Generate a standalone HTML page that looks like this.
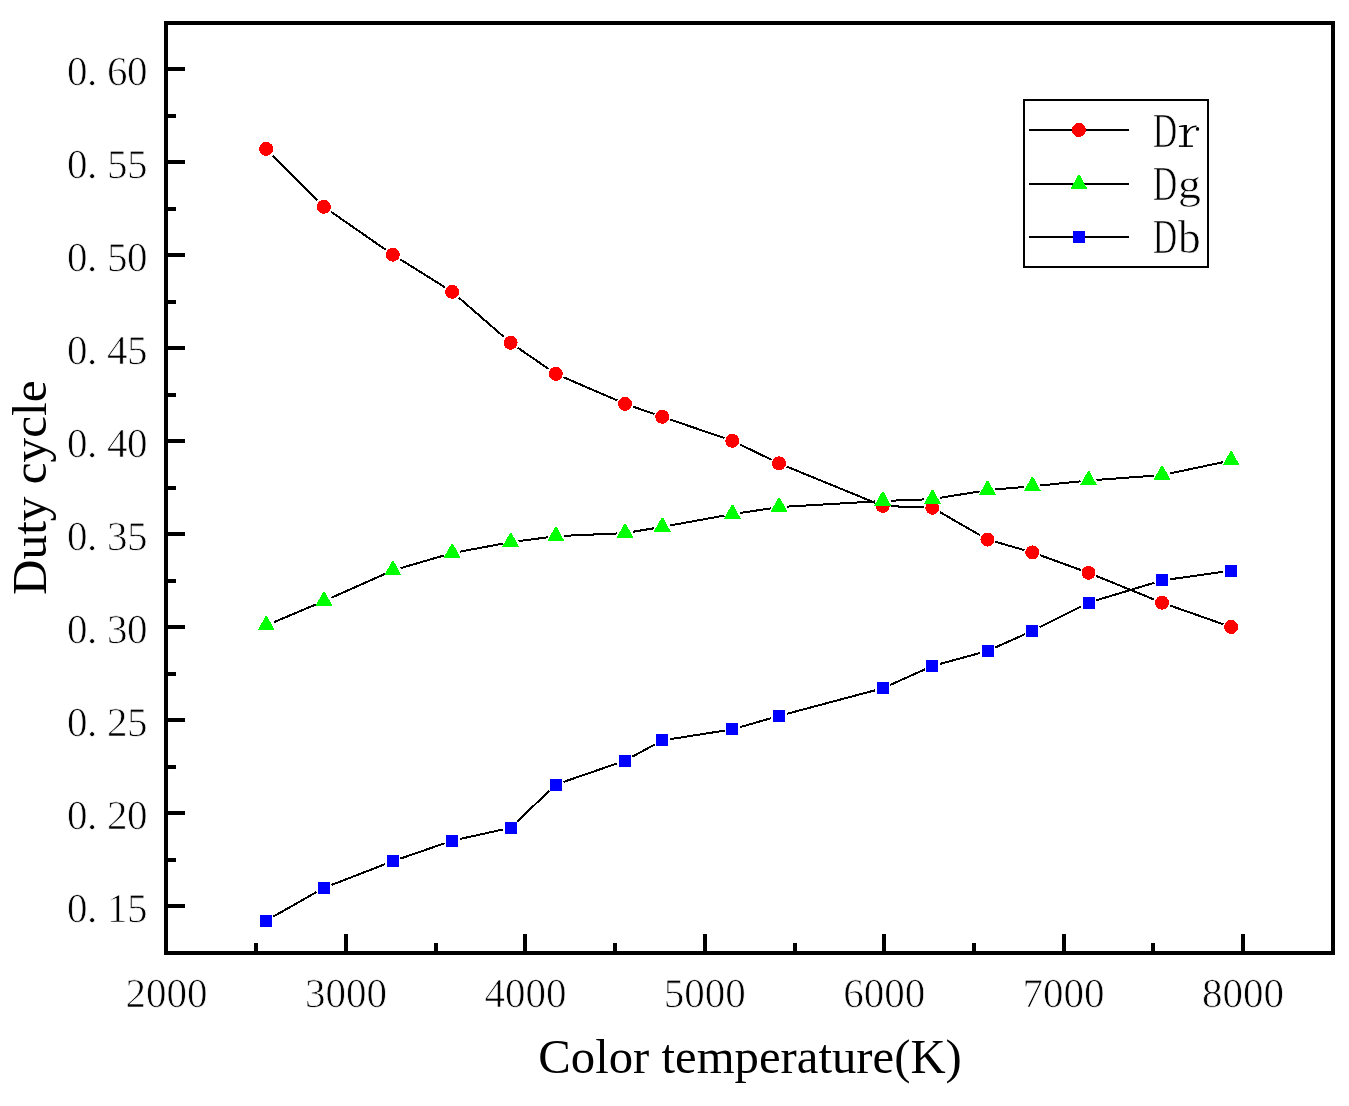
<!DOCTYPE html>
<html><head><meta charset="utf-8"><style>
html,body{margin:0;padding:0;background:#fff;}
svg{display:block;}
text{font-family:"Liberation Serif", serif;font-size:40px;fill:#000;filter:grayscale(1);}
.t{stroke:#fff;stroke-width:0.7px;}
.n{font-size:41px;text-rendering:geometricPrecision;}
</style></head><body>
<svg width="1349" height="1106" viewBox="0 0 1349 1106" shape-rendering="crispEdges">
<rect width="1349" height="1106" fill="#fff"/>
<rect x="166" y="23" width="1167" height="930" fill="none" stroke="#000" stroke-width="4"/>
<rect x="168" y="904.4" width="17" height="4" fill="#000"/>
<rect x="168" y="811.36" width="17" height="4" fill="#000"/>
<rect x="168" y="718.31" width="17" height="4" fill="#000"/>
<rect x="168" y="625.27" width="17" height="4" fill="#000"/>
<rect x="168" y="532.23" width="17" height="4" fill="#000"/>
<rect x="168" y="439.18" width="17" height="4" fill="#000"/>
<rect x="168" y="346.13" width="17" height="4" fill="#000"/>
<rect x="168" y="253.09" width="17" height="4" fill="#000"/>
<rect x="168" y="160.04" width="17" height="4" fill="#000"/>
<rect x="168" y="67" width="17" height="4" fill="#000"/>
<rect x="168" y="857.88" width="8" height="4" fill="#000"/>
<rect x="168" y="764.84" width="8" height="4" fill="#000"/>
<rect x="168" y="671.79" width="8" height="4" fill="#000"/>
<rect x="168" y="578.75" width="8" height="4" fill="#000"/>
<rect x="168" y="485.7" width="8" height="4" fill="#000"/>
<rect x="168" y="392.66" width="8" height="4" fill="#000"/>
<rect x="168" y="299.61" width="8" height="4" fill="#000"/>
<rect x="168" y="206.57" width="8" height="4" fill="#000"/>
<rect x="168" y="113.52" width="8" height="4" fill="#000"/>
<rect x="344" y="934" width="4" height="17" fill="#000"/>
<rect x="523.4" y="934" width="4" height="17" fill="#000"/>
<rect x="702.8" y="934" width="4" height="17" fill="#000"/>
<rect x="882.2" y="934" width="4" height="17" fill="#000"/>
<rect x="1061.6" y="934" width="4" height="17" fill="#000"/>
<rect x="1241" y="934" width="4" height="17" fill="#000"/>
<rect x="254.3" y="943" width="4" height="8" fill="#000"/>
<rect x="433.7" y="943" width="4" height="8" fill="#000"/>
<rect x="613.1" y="943" width="4" height="8" fill="#000"/>
<rect x="792.5" y="943" width="4" height="8" fill="#000"/>
<rect x="971.9" y="943" width="4" height="8" fill="#000"/>
<rect x="1151.3" y="943" width="4" height="8" fill="#000"/>
<text class="t n" x="66.9" y="922">0</text>
<text class="t n" x="86.9" y="922">.</text>
<text class="t n" x="106.9" y="922">1</text>
<text class="t n" x="126.9" y="922">5</text>
<text class="t n" x="66.9" y="828.96">0</text>
<text class="t n" x="86.9" y="828.96">.</text>
<text class="t n" x="106.9" y="828.96">2</text>
<text class="t n" x="126.9" y="828.96">0</text>
<text class="t n" x="66.9" y="735.91">0</text>
<text class="t n" x="86.9" y="735.91">.</text>
<text class="t n" x="106.9" y="735.91">2</text>
<text class="t n" x="126.9" y="735.91">5</text>
<text class="t n" x="66.9" y="642.87">0</text>
<text class="t n" x="86.9" y="642.87">.</text>
<text class="t n" x="106.9" y="642.87">3</text>
<text class="t n" x="126.9" y="642.87">0</text>
<text class="t n" x="66.9" y="549.83">0</text>
<text class="t n" x="86.9" y="549.83">.</text>
<text class="t n" x="106.9" y="549.83">3</text>
<text class="t n" x="126.9" y="549.83">5</text>
<text class="t n" x="66.9" y="456.78">0</text>
<text class="t n" x="86.9" y="456.78">.</text>
<text class="t n" x="106.9" y="456.78">4</text>
<text class="t n" x="126.9" y="456.78">0</text>
<text class="t n" x="66.9" y="363.73">0</text>
<text class="t n" x="86.9" y="363.73">.</text>
<text class="t n" x="106.9" y="363.73">4</text>
<text class="t n" x="126.9" y="363.73">5</text>
<text class="t n" x="66.9" y="270.69">0</text>
<text class="t n" x="86.9" y="270.69">.</text>
<text class="t n" x="106.9" y="270.69">5</text>
<text class="t n" x="126.9" y="270.69">0</text>
<text class="t n" x="66.9" y="177.64">0</text>
<text class="t n" x="86.9" y="177.64">.</text>
<text class="t n" x="106.9" y="177.64">5</text>
<text class="t n" x="126.9" y="177.64">5</text>
<text class="t n" x="66.9" y="84.6">0</text>
<text class="t n" x="86.9" y="84.6">.</text>
<text class="t n" x="106.9" y="84.6">6</text>
<text class="t n" x="126.9" y="84.6">0</text>
<text class="t n" x="166.6" y="1007" text-anchor="middle">2000</text>
<text class="t n" x="346" y="1007" text-anchor="middle">3000</text>
<text class="t n" x="525.4" y="1007" text-anchor="middle">4000</text>
<text class="t n" x="704.8" y="1007" text-anchor="middle">5000</text>
<text class="t n" x="884.2" y="1007" text-anchor="middle">6000</text>
<text class="t n" x="1063.6" y="1007" text-anchor="middle">7000</text>
<text class="t n" x="1243" y="1007" text-anchor="middle">8000</text>
<text x="538.3" y="1072.7" style="font-size:49px" textLength="423.5" lengthAdjust="spacingAndGlyphs">Color temperature(K)</text>
<text transform="translate(45.8,595) rotate(-90)" x="0" y="0" style="font-size:49px" textLength="214.5" lengthAdjust="spacingAndGlyphs">Duty cycle</text>
<path d="M272.9 155.62L317.2 200.08M331.12 211.82L385.58 249.68M400.13 259.29L444.77 287.21M459.02 297.83L503.68 336.77M517.83 347.77L548.57 368.93M563.44 377.2L617.36 400.5M632.75 406.51L654.45 414.09M669.96 419.46L724.54 438.14M739.86 444.46L771.44 459.74M786.67 466.54L875.03 502.76M890.7 506.21L924.4 507.49M939.82 512.07L980.08 535.23M995.33 541.75L1024.47 550.15M1040.04 555.21L1080.76 569.99M1096.18 575.92L1154.32 599.58M1169.75 605.43L1223.35 624.27" stroke="#000" stroke-width="2" fill="none"/>
<circle cx="266.2" cy="148.9" r="7.0" fill="#f00"/>
<circle cx="323.9" cy="206.8" r="7.0" fill="#f00"/>
<circle cx="392.8" cy="254.7" r="7.0" fill="#f00"/>
<circle cx="452.1" cy="291.8" r="7.0" fill="#f00"/>
<circle cx="510.6" cy="342.8" r="7.0" fill="#f00"/>
<circle cx="555.8" cy="373.9" r="7.0" fill="#f00"/>
<circle cx="625" cy="403.8" r="7.0" fill="#f00"/>
<circle cx="662.2" cy="416.8" r="7.0" fill="#f00"/>
<circle cx="732.3" cy="440.8" r="7.0" fill="#f00"/>
<circle cx="779" cy="463.4" r="7.0" fill="#f00"/>
<circle cx="882.7" cy="505.9" r="7.0" fill="#f00"/>
<circle cx="932.4" cy="507.8" r="7.0" fill="#f00"/>
<circle cx="987.5" cy="539.5" r="7.0" fill="#f00"/>
<circle cx="1032.3" cy="552.4" r="7.0" fill="#f00"/>
<circle cx="1088.5" cy="572.8" r="7.0" fill="#f00"/>
<circle cx="1162" cy="602.7" r="7.0" fill="#f00"/>
<circle cx="1231.1" cy="627" r="7.0" fill="#f00"/>
<path d="M273.86 622.18L316.24 604.32M331.52 597.7L385.18 573.8M400.62 568.12L444.28 555.38M460.03 551.62L502.67 543.68M518.56 541.14L547.84 537.26M563.8 535.84L617 533.46M632.94 531.78L654.26 528.22M670.13 525.46L724.37 515.59M740.25 512.95L771.05 508.3M786.99 506.63L874.71 501.47M890.7 500.69L924.4 499.41M940.34 497.8L979.56 491.4M995.48 489.42L1024.32 486.98M1040.28 485.48L1080.52 481.32M1096.49 479.91L1154.01 475.69M1169.91 473.43L1223.19 462.17" stroke="#000" stroke-width="2" fill="none"/>
<path d="M265.6 616.1L267.1 616.1L274.7 630.1L257.7 630.1Z" fill="#0f0"/>
<path d="M323.3 591.8L324.8 591.8L332.4 605.8L315.4 605.8Z" fill="#0f0"/>
<path d="M392.2 561.1L393.7 561.1L401.3 575.1L384.3 575.1Z" fill="#0f0"/>
<path d="M451.5 543.8L453 543.8L460.6 557.8L443.6 557.8Z" fill="#0f0"/>
<path d="M510 532.9L511.5 532.9L519.1 546.9L502.1 546.9Z" fill="#0f0"/>
<path d="M555.2 526.9L556.7 526.9L564.3 540.9L547.3 540.9Z" fill="#0f0"/>
<path d="M624.4 523.8L625.9 523.8L633.5 537.8L616.5 537.8Z" fill="#0f0"/>
<path d="M661.6 517.6L663.1 517.6L670.7 531.6L653.7 531.6Z" fill="#0f0"/>
<path d="M731.7 504.85L733.2 504.85L740.8 518.85L723.8 518.85Z" fill="#0f0"/>
<path d="M778.4 497.8L779.9 497.8L787.5 511.8L770.5 511.8Z" fill="#0f0"/>
<path d="M882.1 491.7L883.6 491.7L891.2 505.7L874.2 505.7Z" fill="#0f0"/>
<path d="M931.8 489.8L933.3 489.8L940.9 503.8L923.9 503.8Z" fill="#0f0"/>
<path d="M986.9 480.8L988.4 480.8L996 494.8L979 494.8Z" fill="#0f0"/>
<path d="M1031.7 477L1033.2 477L1040.8 491L1023.8 491Z" fill="#0f0"/>
<path d="M1087.9 471.2L1089.4 471.2L1097 485.2L1080 485.2Z" fill="#0f0"/>
<path d="M1161.4 465.8L1162.9 465.8L1170.5 479.8L1153.5 479.8Z" fill="#0f0"/>
<path d="M1230.5 451.2L1232 451.2L1239.6 465.2L1222.6 465.2Z" fill="#0f0"/>
<path d="M273.46 916.49L316.64 892.01M331.42 884.99L385.28 864.11M400.37 858.58L444.53 843.32M459.8 839L502.9 829.5M517.24 821.45L549.16 790.95M563.37 781.99L617.43 763.31M632.29 756.72L654.91 744.38M669.95 739.18L724.55 730.62M739.94 727.19L771.36 718.11M786.66 713.86L875.04 690.34M890.13 684.96L924.97 669.34M940.05 663.92L979.85 653.08M994.93 647.66L1024.87 634.24M1039.66 627.21L1081.14 606.39M1096.12 600.39L1154.38 582.71M1169.76 579.31L1223.34 571.79" stroke="#000" stroke-width="2" fill="none"/>
<rect x="260.2" y="914.6" width="12" height="12" fill="#00f"/>
<rect x="317.9" y="881.9" width="12" height="12" fill="#00f"/>
<rect x="386.8" y="855.2" width="12" height="12" fill="#00f"/>
<rect x="446.1" y="834.7" width="12" height="12" fill="#00f"/>
<rect x="504.6" y="821.8" width="12" height="12" fill="#00f"/>
<rect x="549.8" y="778.6" width="12" height="12" fill="#00f"/>
<rect x="619" y="754.7" width="12" height="12" fill="#00f"/>
<rect x="656.2" y="734.4" width="12" height="12" fill="#00f"/>
<rect x="726.3" y="723.4" width="12" height="12" fill="#00f"/>
<rect x="773" y="709.9" width="12" height="12" fill="#00f"/>
<rect x="876.7" y="682.3" width="12" height="12" fill="#00f"/>
<rect x="926.4" y="660" width="12" height="12" fill="#00f"/>
<rect x="981.5" y="645" width="12" height="12" fill="#00f"/>
<rect x="1026.3" y="624.9" width="12" height="12" fill="#00f"/>
<rect x="1082.5" y="596.7" width="12" height="12" fill="#00f"/>
<rect x="1156" y="574.4" width="12" height="12" fill="#00f"/>
<rect x="1225.1" y="564.7" width="12" height="12" fill="#00f"/>
<rect x="1024" y="100" width="184" height="167" fill="#fff" stroke="#000" stroke-width="2"/>
<rect x="1029" y="129" width="100" height="2" fill="#000"/>
<rect x="1029" y="182.8" width="100" height="2" fill="#000"/>
<rect x="1029" y="235.9" width="100" height="2" fill="#000"/>
<circle cx="1078.9" cy="130" r="7.0" fill="#f00"/>
<path d="M1078.3 175L1079.8 175L1087.4 189L1070.4 189Z" fill="#0f0"/>
<rect x="1072.9" y="230.9" width="12" height="12" fill="#00f"/>
<text class="t" transform="translate(1153.9,146.8) scale(0.6883,1.0000)" x="-1.4" y="0" style="font-size:48.7px">D</text>
<text class="t" transform="translate(1153.9,200) scale(0.6883,1.0000)" x="-1.4" y="0" style="font-size:48.7px">D</text>
<text class="t" transform="translate(1153.9,253) scale(0.6883,1.0000)" x="-1.4" y="0" style="font-size:48.7px">D</text>
<g fill="#000" shape-rendering="auto"><rect x="1183.8" y="125" width="3.1" height="21.8"/><path d="M1178.9 125.9L1183.8 124.9L1183.8 127.1L1178.9 127.1Z"/><rect x="1178.9" y="145.4" width="14" height="1.5"/><path d="M1186.9 133.2Q1189.5 126 1196.5 126.2" fill="none" stroke="#000" stroke-width="1.6"/><ellipse cx="1197.5" cy="128.9" rx="1.7" ry="1.9"/></g>
<text class="t" transform="translate(1180,198) scale(0.9423,0.8540)" x="-2.09" y="0" style="font-size:48.7px">g</text>
<text class="t" transform="translate(1178,253) scale(0.9336,0.9700)" x="-0" y="0" style="font-size:48.7px">b</text>
</svg>
</body></html>
